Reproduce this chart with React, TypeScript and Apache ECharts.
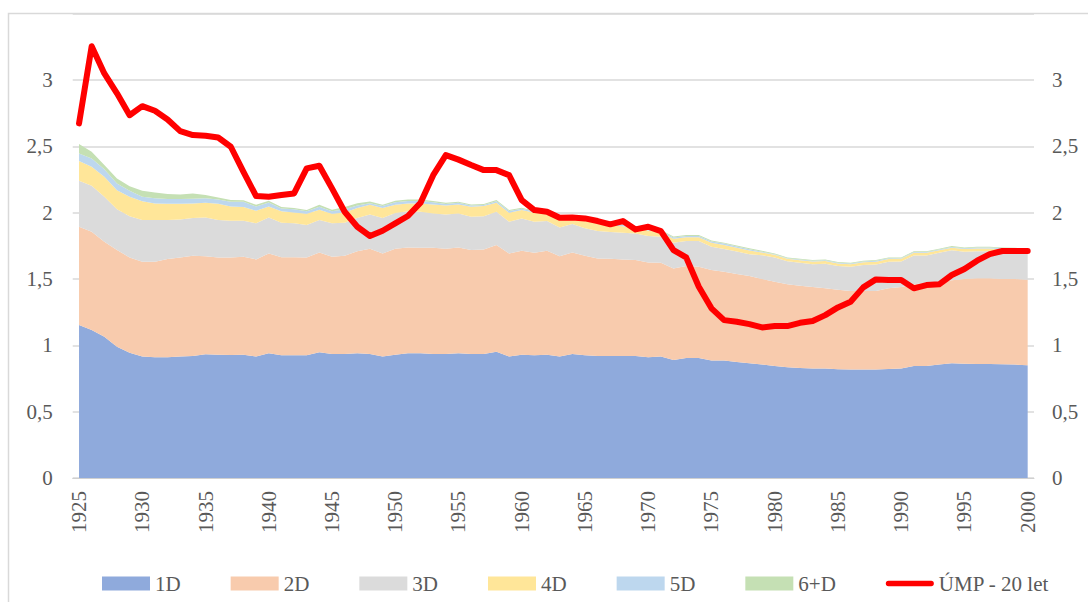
import React, { useEffect, useRef } from "react";
import * as echarts from "echarts";

const years: string[] = [];
for (let y = 1925; y <= 2000; y++) years.push(String(y));

const d1 = [1.153, 1.115, 1.065, 0.99, 0.945, 0.915, 0.91, 0.91, 0.915, 0.92, 0.932, 0.93, 0.928, 0.93, 0.915, 0.94, 0.925, 0.925, 0.925, 0.947, 0.935, 0.935, 0.94, 0.935, 0.915, 0.93, 0.94, 0.94, 0.935, 0.935, 0.94, 0.935, 0.935, 0.952, 0.915, 0.93, 0.925, 0.93, 0.915, 0.935, 0.925, 0.92, 0.92, 0.92, 0.92, 0.91, 0.915, 0.89, 0.905, 0.905, 0.885, 0.885, 0.875, 0.865, 0.855, 0.845, 0.835, 0.83, 0.825, 0.825, 0.82, 0.818, 0.818, 0.818, 0.822, 0.825, 0.845, 0.845, 0.855, 0.865, 0.862, 0.86, 0.86, 0.858, 0.855, 0.85];
const d2 = [0.741, 0.741, 0.715, 0.728, 0.718, 0.715, 0.72, 0.74, 0.748, 0.755, 0.74, 0.733, 0.735, 0.738, 0.733, 0.753, 0.74, 0.74, 0.738, 0.753, 0.733, 0.74, 0.77, 0.793, 0.778, 0.798, 0.798, 0.795, 0.8, 0.793, 0.798, 0.783, 0.788, 0.804, 0.778, 0.783, 0.773, 0.783, 0.757, 0.765, 0.75, 0.735, 0.733, 0.728, 0.723, 0.715, 0.708, 0.69, 0.693, 0.688, 0.683, 0.67, 0.662, 0.657, 0.645, 0.635, 0.625, 0.62, 0.615, 0.605, 0.6, 0.592, 0.592, 0.592, 0.608, 0.615, 0.615, 0.625, 0.625, 0.625, 0.638, 0.645, 0.645, 0.642, 0.645, 0.645];
const d3 = [0.346, 0.347, 0.34, 0.307, 0.311, 0.314, 0.314, 0.294, 0.286, 0.285, 0.291, 0.281, 0.276, 0.271, 0.272, 0.27, 0.26, 0.255, 0.244, 0.244, 0.252, 0.25, 0.25, 0.259, 0.267, 0.269, 0.272, 0.272, 0.259, 0.259, 0.256, 0.251, 0.251, 0.251, 0.239, 0.244, 0.234, 0.224, 0.217, 0.215, 0.207, 0.207, 0.201, 0.201, 0.201, 0.199, 0.196, 0.194, 0.189, 0.194, 0.176, 0.172, 0.17, 0.165, 0.18, 0.182, 0.173, 0.173, 0.172, 0.185, 0.178, 0.182, 0.195, 0.2, 0.2, 0.192, 0.218, 0.208, 0.218, 0.226, 0.206, 0.205, 0.205, 0.205, 0.195, 0.195];
const d4 = [0.149, 0.143, 0.15, 0.145, 0.146, 0.143, 0.126, 0.123, 0.118, 0.11, 0.112, 0.123, 0.108, 0.103, 0.095, 0.084, 0.085, 0.082, 0.085, 0.078, 0.072, 0.077, 0.075, 0.073, 0.075, 0.063, 0.06, 0.063, 0.068, 0.068, 0.068, 0.076, 0.076, 0.068, 0.068, 0.063, 0.068, 0.058, 0.068, 0.053, 0.063, 0.056, 0.051, 0.048, 0.038, 0.041, 0.034, 0.029, 0.028, 0.028, 0.029, 0.03, 0.028, 0.028, 0.02, 0.02, 0.019, 0.019, 0.02, 0.021, 0.019, 0.02, 0.021, 0.021, 0.021, 0.02, 0.02, 0.02, 0.018, 0.02, 0.02, 0.02, 0.02, 0.02, 0.027, 0.028];
const d5 = [0.058, 0.063, 0.057, 0.05, 0.045, 0.033, 0.038, 0.036, 0.036, 0.035, 0.033, 0.033, 0.035, 0.04, 0.032, 0.03, 0.022, 0.023, 0.018, 0.023, 0.018, 0.023, 0.02, 0.012, 0.015, 0.018, 0.018, 0.018, 0.016, 0.011, 0.012, 0.009, 0.008, 0.012, 0.012, 0.01, 0.009, 0.007, 0.011, 0.008, 0.012, 0.012, 0.012, 0.011, 0.011, 0.01, 0.01, 0.01, 0.01, 0.01, 0.01, 0.01, 0.01, 0.01, 0.006, 0.005, 0.005, 0.005, 0.005, 0.006, 0.005, 0.005, 0.006, 0.006, 0.006, 0.005, 0.006, 0.006, 0.006, 0.006, 0.006, 0.007, 0.007, 0.007, 0.007, 0.006];
const d6 = [0.07, 0.05, 0.033, 0.038, 0.035, 0.045, 0.045, 0.037, 0.035, 0.04, 0.025, 0.015, 0.013, 0.011, 0.013, 0.013, 0.01, 0.01, 0.01, 0.015, 0.012, 0.017, 0.017, 0.013, 0.01, 0.012, 0.012, 0.012, 0.01, 0.009, 0.009, 0.008, 0.007, 0.008, 0.008, 0.007, 0.006, 0.006, 0.007, 0.006, 0.008, 0.01, 0.008, 0.007, 0.007, 0.007, 0.007, 0.007, 0.007, 0.007, 0.007, 0.007, 0.007, 0.007, 0.007, 0.006, 0.006, 0.006, 0.006, 0.006, 0.006, 0.006, 0.006, 0.006, 0.006, 0.006, 0.006, 0.006, 0.006, 0.006, 0.006, 0.006, 0.006, 0.006, 0.006, 0.006];
const ump = [2.673, 3.255, 3.05, 2.9, 2.735, 2.803, 2.768, 2.703, 2.615, 2.585, 2.58, 2.567, 2.497, 2.308, 2.125, 2.12, 2.133, 2.145, 2.334, 2.354, 2.183, 2.007, 1.894, 1.824, 1.864, 1.919, 1.975, 2.075, 2.283, 2.434, 2.4, 2.359, 2.321, 2.321, 2.283, 2.095, 2.02, 2.007, 1.962, 1.964, 1.957, 1.937, 1.912, 1.937, 1.874, 1.894, 1.861, 1.718, 1.663, 1.442, 1.279, 1.19, 1.178, 1.16, 1.135, 1.145, 1.145, 1.17, 1.183, 1.228, 1.286, 1.329, 1.437, 1.497, 1.492, 1.492, 1.43, 1.454, 1.46, 1.53, 1.575, 1.638, 1.688, 1.711, 1.711, 1.711];

const areaNames = ["1D", "2D", "3D", "4D", "5D", "6+D"];
const areaColors = ["#8faadc", "#f8cbad", "#dbdbdb", "#ffe699", "#bdd7ee", "#c5e0b4"];
const areaData = [d1, d2, d3, d4, d5, d6];
const lineName = "ÚMP - 20 let";

const FONT = "'Liberation Serif', 'Times New Roman', serif";
const TXT = "#595959";
const LINE_ICON = "path://M3,0 L51,0 A3,3 0 0 1 51,6 L3,6 A3,3 0 0 1 3,0 Z";

export default function App() {
  const ref = useRef<HTMLDivElement>(null);
  useEffect(() => {
    document.body.style.margin = "0";
    if (!ref.current) return;
    const chart = echarts.init(ref.current, null, { renderer: "svg" });
    const fmt = (v: number) => (v > 3.01 ? "" : String(v).replace(".", ","));
    const series: any[] = areaNames.map((n, i) => ({
      name: n,
      type: "line",
      stack: "total",
      data: areaData[i],
      color: areaColors[i],
      symbol: "none",
      lineStyle: { width: 0 },
      areaStyle: { color: areaColors[i], opacity: 1 },
      emphasis: { disabled: true },
      yAxisIndex: 0,
      z: 2,
    }));
    series.push({
      name: lineName,
      type: "line",
      data: ump,
      color: "#ff0000",
      symbol: "none",
      yAxisIndex: 1,
      lineStyle: { width: 6, color: "#ff0000", join: "round", cap: "round" },
      emphasis: { disabled: true },
      z: 5,
    });
    chart.setOption({
      animation: false,
      textStyle: { fontFamily: FONT },
      grid: { left: 72.7, right: 54, top: 13.7, bottom: 124 },
      xAxis: {
        type: "category",
        data: years,
        boundaryGap: true,
        axisLine: { lineStyle: { color: "#d0d0d0", width: 1 } },
        axisTick: { interval: 0, length: 6, lineStyle: { color: "#d0d0d0" } },
        axisLabel: {
          interval: 4,
          rotate: 90,
          margin: 13,
          color: TXT,
          fontSize: 21,
          fontFamily: FONT,
        },
        splitLine: { show: false },
      },
      yAxis: [
        {
          type: "value",
          min: 0,
          max: 3.5,
          interval: 0.5,
          axisLine: { show: false },
          axisTick: { show: false },
          axisLabel: { formatter: fmt, color: TXT, fontSize: 21, fontFamily: FONT, margin: 20 },
          splitLine: { lineStyle: { color: "#d9d9d9", width: 1.5 } },
        },
        {
          type: "value",
          min: 0,
          max: 3.5,
          interval: 0.5,
          position: "right",
          axisLine: { show: false },
          axisTick: { show: false },
          axisLabel: { formatter: fmt, color: TXT, fontSize: 21, fontFamily: FONT, margin: 18 },
          splitLine: { show: false },
        },
      ],
      legend: {
        left: 97,
        top: 568,
        itemWidth: 48,
        itemHeight: 14,
        itemGap: 50,
        textStyle: { color: TXT, fontSize: 21, fontFamily: FONT },
        data: [
          ...areaNames.map((n) => ({ name: n, icon: "rect" })),
          { name: lineName, icon: LINE_ICON, itemStyle: { color: "#ff0000" } },
        ],
      },
      graphic: [
        {
          type: "rect",
          silent: true,
          shape: { x: 8.5, y: 13.5, width: 1200, height: 1000 },
          style: { fill: "none", stroke: "#d9d9d9", lineWidth: 1.5 },
        },
      ],
      series,
    });
    return () => chart.dispose();
  }, []);
  return <div ref={ref} style={{ width: 1088, height: 602 }} />;
}
